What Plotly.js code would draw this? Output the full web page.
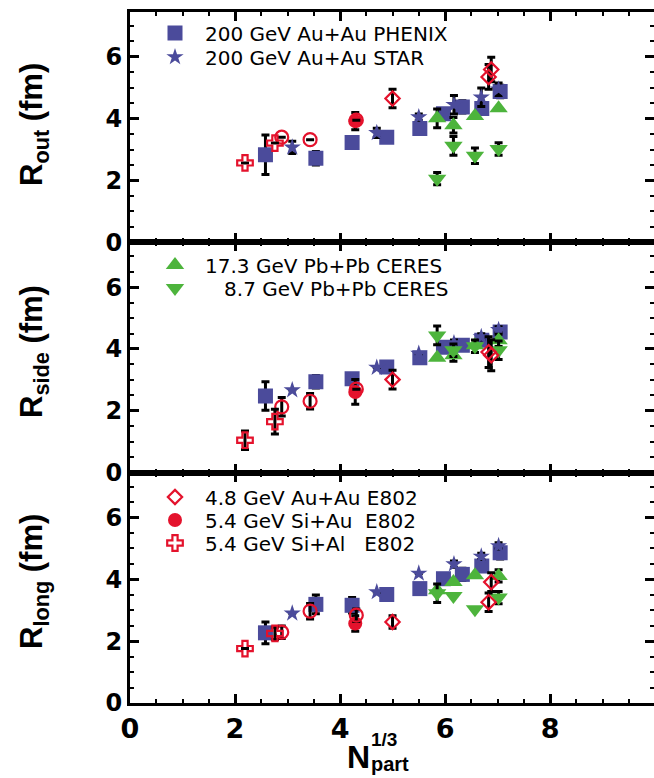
<!DOCTYPE html>
<html><head><meta charset="utf-8">
<script src="https://cdn.plot.ly/plotly-3.0.1.min.js"></script>
<style>html,body{margin:0;padding:0;background:#fff}</style>
</head><body><div id="chart" style="width:654px;height:778px"></div>
<script>
// ---- data (x = Npart^(1/3)) ----
const phenixX = [2.58, 3.54, 4.23, 4.89, 5.52, 5.97, 6.33, 6.70, 7.05];
const starX = [3.09, 4.70, 5.50, 6.17, 6.69, 7.02];
const ceresX = [5.85, 6.16, 6.57, 7.02];
const e802AuAuX = [5.00, 6.83, 6.88];
const siAuX = [4.29];
const siAlX = [2.19, 2.76];
const openCircX = [2.89, 3.43, 4.31];

// R_out
const phenixOut = [2.83, 2.72, 3.23, 3.40, 3.68, 4.16, 4.38, 4.33, 4.88];
const phenixOutErr = [0.64, 0.22, 0, 0.12, 0, 0.15, 0.2, 0.15, 0.2];
const starOut = [3.07, 3.54, 4.05, 4.45, 4.69, 4.95];
const starOutErr = [0.2, 0.15, 0.1, 0.3, 0.3, 0.2];
const ceres17Out = [4.01, 3.79, 4.09, 4.34];
const ceres17OutErr = [0.3, 0.25, 0, 0];
const ceres8Out = [2.06, 3.12, 2.80, 3.02];
const ceres8OutErr = [0.2, 0.3, 0.25, 0.2];
const e802AuAuOut = [4.65, 5.35, 5.59];
const e802AuAuOutErr = [0.3, 0.4, 0.4];
const siAuOut = [3.92];
const siAuOutErr = [0.28];
const siAlOut = [2.57, 3.21];
const siAlOutErr = [0, 0];
const openCircOut = [3.40, 3.32, 3.95];
const openCircOutErr = [0, 0, 0];

// R_side
const phenixSide = [2.48, 2.94, 3.04, 3.42, 3.72, 4.06, 4.12, 4.28, 4.55];
const phenixSideErr = [0.46, 0.2, 0.1, 0.1, 0.1, 0.1, 0.1, 0.15, 0.1];
const starSide = [2.67, 3.40, 3.85, 4.19, 4.39, 4.62];
const starSideErr = [0, 0, 0, 0.1, 0.1, 0.1];
const ceres17Side = [3.72, 3.80, 4.12, 4.28];
const ceres17SideErr = [0, 0.2, 0, 0.2];
const ceres8Side = [4.44, 3.96, 4.09, 3.96];
const ceres8SideErr = [0.3, 0.2, 0.2, 0.3];
const e802AuAuSide = [3.01, 3.90, 3.80];
const e802AuAuSideErr = [0.3, 0.5, 0.5];
const siAuSide = [2.61];
const siAuSideErr = [0.4];
const siAlSide = [1.05, 1.65];
const siAlSideErr = [0.3, 0.4];
const openCircSide = [2.13, 2.31, 2.70];
const openCircSideErr = [0.3, 0.25, 0];

// R_long
const phenixLong = [2.27, 3.19, 3.16, 3.51, 3.70, 4.02, 4.16, 4.43, 4.86];
const phenixLongErr = [0.35, 0.3, 0.25, 0.15, 0, 0.1, 0.2, 0.15, 0.2];
const starLong = [2.90, 3.59, 4.19, 4.49, 4.74, 5.08];
const starLongErr = [0, 0, 0, 0.1, 0.1, 0.1];
const ceres17Long = [3.65, 3.91, 4.13, 4.11];
const ceres17LongErr = [0, 0, 0, 0.2];
const ceres8Long = [3.55, 3.46, 3.03, 3.41];
const ceres8LongErr = [0.3, 0, 0, 0.2];
const e802AuAuLong = [2.62, 3.26, 3.91];
const e802AuAuLongErr = [0.2, 0.3, 0.3];
const siAuLong = [2.57];
const siAuLongErr = [0.25];
const siAlLong = [1.76, 2.25];
const siAlLongErr = [0, 0.2];
const openCircLong = [2.29, 2.97, 2.84];
const openCircLongErr = [0.2, 0.25, 0.2];

const names = {
  phenix: '200 GeV Au+Au PHENIX',
  star: '200 GeV Au+Au STAR',
  ceres17: '17.3 GeV Pb+Pb CERES',
  ceres8: '\u2007\u00a08.7 GeV Pb+Pb CERES',
  e802AuAu: '4.8 GeV Au+Au E802',
  siAu: '5.4 GeV Si+Au\u00a0\u00a0E802',
  siAl: '5.4 GeV Si+Al\u00a0\u00a0\u00a0E802'
};
const yTitles = ['R<sub>out</sub> (fm)', 'R<sub>side</sub> (fm)', 'R<sub>long</sub> (fm)'];
const yTickVals = [0, 2, 4, 6];
const xTickVals = [0, 2, 4, 6, 8];

// ---- styles ----
const BLUE = '#4b4b9b', GREEN = '#4db43c', RED = '#e4122c';
const styles = {
  phenix: {symbol: 'square', size: 15, color: BLUE},
  star: {symbol: 'star', size: 13, color: BLUE},
  ceres17: {symbol: 'triangle-up', size: 16, color: GREEN},
  ceres8: {symbol: 'triangle-down', size: 16, color: GREEN},
  siAu: {symbol: 'circle', size: 14, color: RED},
  openCirc: {symbol: 'circle-open', size: 13, color: RED, line: {color: RED, width: 2.2}},
  siAl: {symbol: 'cross-open', size: 13, color: RED, line: {color: RED, width: 2.2}},
  e802AuAu: {symbol: 'diamond-open', size: 11, color: RED, line: {color: RED, width: 2.2}}
};

const traces = [];
function add(key, x, y, err, panel, legendId) {
  const sfx = panel === 1 ? '' : String(panel);
  traces.push({
    type: 'scatter', mode: 'markers',
    x: x, y: y,
    xaxis: 'x' + sfx, yaxis: 'y' + sfx,
    name: names[key] || key,
    showlegend: !!legendId,
    legend: legendId || 'legend',
    marker: styles[key],
    error_y: {type: 'data', array: err.map(v => v > 0 ? v : null), visible: true,
              color: '#000', thickness: 3, width: 4},
    hoverinfo: 'x+y'
  });
}
const panels = [
  {p: 1, d: {phenix: [phenixOut, phenixOutErr], star: [starOut, starOutErr], ceres17: [ceres17Out, ceres17OutErr], ceres8: [ceres8Out, ceres8OutErr], siAu: [siAuOut, siAuOutErr], openCirc: [openCircOut, openCircOutErr], siAl: [siAlOut, siAlOutErr], e802AuAu: [e802AuAuOut, e802AuAuOutErr]}},
  {p: 2, d: {phenix: [phenixSide, phenixSideErr], star: [starSide, starSideErr], ceres17: [ceres17Side, ceres17SideErr], ceres8: [ceres8Side, ceres8SideErr], siAu: [siAuSide, siAuSideErr], openCirc: [openCircSide, openCircSideErr], siAl: [siAlSide, siAlSideErr], e802AuAu: [e802AuAuSide, e802AuAuSideErr]}},
  {p: 3, d: {phenix: [phenixLong, phenixLongErr], star: [starLong, starLongErr], ceres17: [ceres17Long, ceres17LongErr], ceres8: [ceres8Long, ceres8LongErr], siAu: [siAuLong, siAuLongErr], openCirc: [openCircLong, openCircLongErr], siAl: [siAlLong, siAlLongErr], e802AuAu: [e802AuAuLong, e802AuAuLongErr]}}
];
const xs = {phenix: phenixX, star: starX, ceres17: ceresX, ceres8: ceresX, siAu: siAuX, openCirc: openCircX, siAl: siAlX, e802AuAu: e802AuAuX};
const legendOf = {
  1: {phenix: 'legend', star: 'legend2'},
  2: {ceres17: 'legend3', ceres8: 'legend4'},
  3: {e802AuAu: 'legend5', siAu: 'legend6', siAl: 'legend7'}
};
const order = ['phenix', 'star', 'ceres17', 'ceres8', 'siAu', 'openCirc', 'siAl', 'e802AuAu'];
panels.forEach(P => {
  order.forEach(k => add(k, xs[k], P.d[k][0], P.d[k][1], P.p, legendOf[P.p][k]));
});

// ---- layout ----
const W = 654, H = 778, L = 130, R = 0, T = 12, B = 75;
const plotW = W - L - R, plotH = H - T - B;
const px2x = px => (px - L) / plotW;
const py2y = py => (H - B - py) / plotH;

function xax(anchor, labels) {
  return {anchor: anchor, domain: [0, 1], range: [0, 9.98], tickmode: 'array', tickvals: xTickVals,
    ticks: 'inside', ticklen: 9, tickwidth: 3, tickcolor: '#000',
    minor: {dtick: 0.5, tick0: 0, ticks: 'inside', ticklen: 4, tickwidth: 2, tickcolor: '#000'},
    showline: true, linewidth: 3, linecolor: '#000', mirror: 'allticks',
    showgrid: false, zeroline: false, showticklabels: labels,
    tickfont: {family: 'DejaVu Sans', size: 27, color: '#000', weight: 'bold'}};
}
function yax(anchor, dom) {
  return {anchor: anchor, domain: dom, range: [0, 7.45], tickmode: 'array', tickvals: yTickVals,
    ticks: 'inside', ticklen: 9, tickwidth: 3, tickcolor: '#000',
    minor: {dtick: 0.5, tick0: 0, ticks: 'inside', ticklen: 4, tickwidth: 2, tickcolor: '#000'},
    showline: true, linewidth: 3, linecolor: '#000', mirror: 'allticks',
    showgrid: false, zeroline: false,
    tickfont: {family: 'DejaVu Sans', size: 24, color: '#000', weight: 'bold'}};
}
function leg(cy) {
  return {x: px2x(145), xanchor: 'left', y: py2y(cy), yanchor: 'middle',
    bgcolor: 'rgba(0,0,0,0)', borderwidth: 0, itemwidth: 50,
    font: {family: 'DejaVu Sans', size: 20, color: '#000'}};
}
const titleFont = {family: 'Liberation Sans', size: 31, color: '#000'};
function ytitle(i, cy) {
  return {text: '<b>' + yTitles[i] + '</b>', xref: 'paper', yref: 'paper',
    x: px2x(34), y: py2y(cy), xanchor: 'center', yanchor: 'middle',
    textangle: -90, showarrow: false, font: titleFont};
}
const layout = {
  width: W, height: H,
  margin: {l: L, r: R, t: T, b: B},
  paper_bgcolor: '#fff', plot_bgcolor: '#fff',
  showlegend: true,
  xaxis: xax('y', false), yaxis: yax('x', [2/3, 1]),
  xaxis2: xax('y2', false), yaxis2: yax('x2', [1/3, 2/3]),
  xaxis3: xax('y3', true), yaxis3: yax('x3', [0, 1/3]),
  legend: leg(33), legend2: leg(57),
  legend3: leg(265), legend4: leg(288),
  legend5: leg(497), legend6: leg(520), legend7: leg(543),
  annotations: [
    ytitle(0, 125), ytitle(1, 352), ytitle(2, 582),
    {text: '<b>N</b>', xref: 'paper', yref: 'paper', x: px2x(358), y: py2y(757), xanchor: 'center', yanchor: 'middle', showarrow: false, font: {family: 'Liberation Sans', size: 32, color: '#000'}},
    {text: '<b>1/3</b>', xref: 'paper', yref: 'paper', x: px2x(369), xanchor: 'left', y: py2y(739), yanchor: 'middle', showarrow: false, font: {family: 'Liberation Sans', size: 19, color: '#000'}},
    {text: '<b>part</b>', xref: 'paper', yref: 'paper', x: px2x(369), xanchor: 'left', y: py2y(764), yanchor: 'middle', showarrow: false, font: {family: 'Liberation Sans', size: 20, color: '#000'}}
  ]
};
Plotly.newPlot('chart', traces, layout, {displayModeBar: false, staticPlot: true});
</script></body></html>
